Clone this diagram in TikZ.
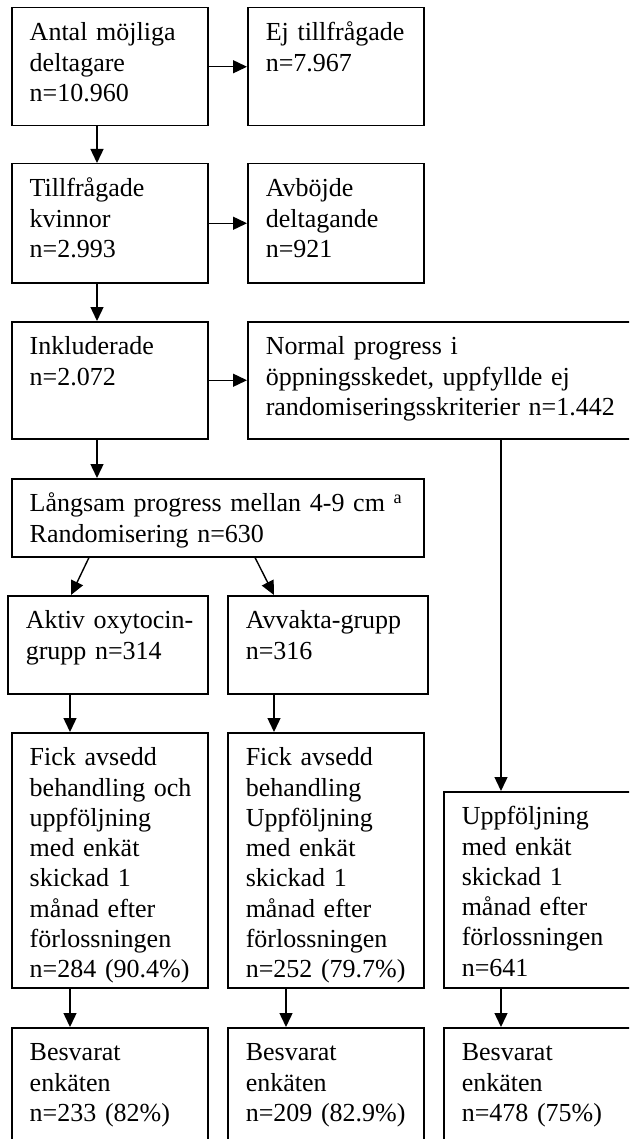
\documentclass[tikz,border=0pt]{standalone}
\usepackage{fontspec}
\setmainfont{Liberation Serif}
\usetikzlibrary{arrows.meta,calc}
\tikzset{
  ruta/.style 2 args={draw,line width=0.75pt,anchor=north west,inner sep=0pt,
    text width=#1,text height=16.5pt,text depth=#2,
    font=\fontsize{13pt}{15.15pt}\selectfont,
    execute at begin node={\raggedright\leftskip=9pt\relax}},%盒子: 宽度, 基线以下深度
  pil/.style={line width=0.7pt,-{Triangle[length=7pt,width=6.5pt]}}%箭头
}
\begin{document}
\begin{tikzpicture}[x=0.5pt,y=-0.5pt]
  \useasboundingbox (0,0) rectangle (629,1139);
  \clip (0,0) rectangle (629,1139);%右侧和底部的框被裁掉
  %第一、二行
  \node[ruta={98pt}{42.5pt}] (antal) at (11,7) {Antal möjliga\\deltagare\\n=10.960};
  \node[ruta={88pt}{42.5pt}] (ej) at (247,7) {Ej tillfrågade\\n=7.967};
  \node[ruta={98pt}{43pt}] (tillfr) at (11,163) {Tillfrågade\\kvinnor\\n=2.993};
  \node[ruta={88pt}{43pt}] (avbojde) at (247,163) {Avböjde\\deltagande\\n=921};
  %第三行
  \node[ruta={98pt}{42pt}] (inkl) at (11,321) {Inkluderade\\n=2.072};
  \node[ruta={201.5pt}{42pt}] (normal) at (247,321) {Normal progress i\\öppningsskedet, uppfyllde ej\\randomiseringsskriterier n=1.442};
  %随机化
  \node[ruta={206pt}{22.5pt}] (langsam) at (11,478) {Långsam progress mellan 4-9 cm \textsuperscript{a}\\Randomisering n=630};
  \node[ruta={100pt}{32.5pt}] (aktiv) at (7,595) {Aktiv oxytocin-\\grupp n=314};
  \node[ruta={100pt}{32.5pt}] (avvakta) at (227,595) {Avvakta-grupp\\n=316};
  %随访
  \node[ruta={98pt}{111pt}] (fick1) at (11,732) {Fick avsedd\\behandling och\\uppföljning\\med enkät\\skickad 1\\månad efter\\förlossningen\\n=284 (90.4\%)};
  \node[ruta={98pt}{111pt}] (fick2) at (227,732) {Fick avsedd\\behandling\\Uppföljning\\med enkät\\skickad 1\\månad efter\\förlossningen\\n=252 (79.7\%)};
  \node[ruta={103.5pt}{81.5pt}] (uppf) at (443,791) {Uppföljning\\med enkät\\skickad 1\\månad efter\\förlossningen\\n=641};
  %最后一行
  \node[ruta={98pt}{53.5pt}] (besv1) at (11,1027) {Besvarat\\enkäten\\n=233 (82\%)};
  \node[ruta={98pt}{53.5pt}] (besv2) at (227,1027) {Besvarat\\enkäten\\n=209 (82.9\%)};
  \node[ruta={103.5pt}{53.5pt}] (besv3) at (443,1027) {Besvarat\\enkäten\\n=478 (75\%)};
  %水平箭头
  \draw[pil] (antal.east) -- (ej.west);
  \draw[pil] (tillfr.east) -- (avbojde.west);
  \draw[pil] (inkl.east) -- (normal.west);
  %竖直箭头
  \draw[pil] ([xshift=43pt]antal.south west) -- ([xshift=43pt]tillfr.north west);
  \draw[pil] ([xshift=43pt]tillfr.south west) -- ([xshift=43pt]inkl.north west);
  \draw[pil] ([xshift=43pt]inkl.south west) -- ([xshift=43pt]langsam.north west);
  \draw[pil] ([xshift=127pt]normal.south west) -- ([xshift=29pt]uppf.north west);
  \draw[pil] ([xshift=39pt]langsam.south west) -- ([xshift=32pt]aktiv.north west);%斜箭头
  \draw[pil] ([xshift=122pt]langsam.south west) -- ([xshift=23.5pt]avvakta.north west);
  \draw[pil] ([xshift=31.5pt]aktiv.south west) -- ([xshift=29.5pt]fick1.north west);
  \draw[pil] ([xshift=23.5pt]avvakta.south west) -- ([xshift=23.5pt]fick2.north west);
  \draw[pil] ([xshift=29.5pt]fick1.south west) -- ([xshift=29.5pt]besv1.north west);
  \draw[pil] ([xshift=29.5pt]fick2.south west) -- ([xshift=29.5pt]besv2.north west);
  \draw[pil] ([xshift=29pt]uppf.south west) -- ([xshift=29pt]besv3.north west);
\end{tikzpicture}
\end{document}
